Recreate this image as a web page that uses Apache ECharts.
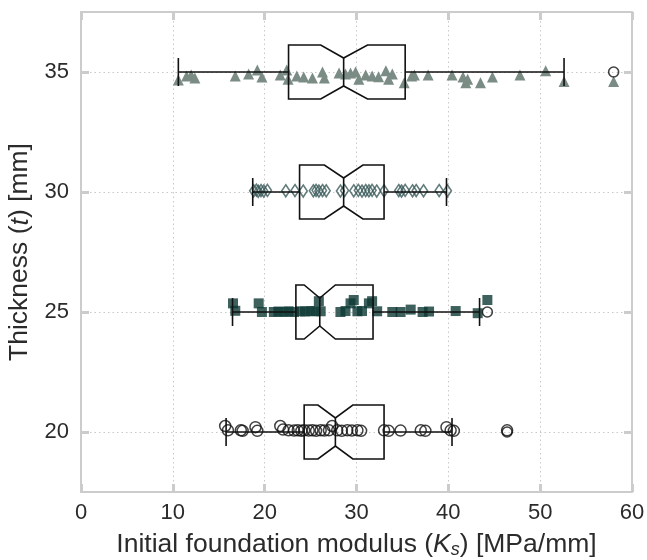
<!DOCTYPE html>
<html>
<head>
<meta charset="utf-8">
<script src="https://cdn.jsdelivr.net/npm/echarts@6/dist/echarts.min.js"></script>
<style>html,body{margin:0;padding:0;background:#fff}#c{width:647px;height:560px}</style>
</head>
<body>
<div id="c"></div>
<script>
// ---- data ----
const thickness = [20, 25, 30, 35];
const q1      = [24.3, 23.4, 23.8, 22.6];
const notchLo = [25.8, 24.3, 26.5, 26.1];
const median  = [27.7, 26.0, 28.6, 28.6];
const notchHi = [29.6, 27.7, 30.7, 31.2];
const q3      = [33.0, 31.8, 33.0, 35.3];
const whiskLo = [15.8, 16.5, 18.7, 10.6];
const whiskHi = [40.4, 43.4, 39.8, 52.6];
const outliers = [[46.4, 20], [44.25, 25], [58.0, 35]];

const xTicks = [0, 10, 20, 30, 40, 50, 60];
const yTicks = [20, 25, 30, 35];

const pts35 = [[10.6,34.67],[11.5,34.83],[12.0,34.87],[12.4,34.75],[16.8,34.83],[18.25,34.92],[19.2,35.08],[19.7,34.79],[21.7,34.87],[22.4,35.08],[22.55,34.7],[23.5,34.83],[24.25,34.79],[25.2,34.75],[26.3,35.0],[26.5,34.75],[28.1,34.96],[28.8,34.92],[29.35,34.96],[29.9,35.0],[30.25,34.7],[31.0,34.87],[31.7,34.83],[32.4,34.8],[33.2,35.05],[33.5,34.7],[33.9,34.92],[35.2,34.55],[36.0,34.83],[36.3,34.87],[37.8,34.87],[40.4,34.87],[41.6,34.79],[41.9,34.55],[42.1,34.7],[43.5,34.55],[44.8,34.79],[47.8,34.87],[50.6,35.05],[52.6,34.6],[58.0,34.6]];
const pts30 = [[18.8,30.05],[19.1,30.08],[19.3,30.03],[19.6,30.06],[19.9,30.04],[20.3,30.07],[22.3,30.05],[23.3,30.06],[24.2,30.04],[25.3,30.05],[25.6,30.07],[25.9,30.04],[26.3,30.06],[26.7,30.05],[28.25,30.04],[28.7,30.06],[29.7,30.05],[30.2,30.07],[30.6,30.04],[31.0,30.06],[31.35,30.05],[31.7,30.07],[32.2,30.04],[33.0,30.05],[34.6,30.06],[34.9,30.04],[35.3,30.07],[36.1,30.05],[36.5,30.06],[37.3,30.05],[39.0,30.06],[39.9,30.05]];
const pts25 = [[16.55,25.36],[16.8,25.05],[19.35,25.36],[19.7,25.0],[21.0,25.0],[21.5,25.02],[22.1,25.0],[22.6,25.03],[23.2,25.0],[23.9,25.03],[24.4,25.02],[25.0,25.04],[25.5,25.03],[25.9,25.45],[26.1,25.03],[28.25,25.0],[28.8,25.04],[29.35,25.36],[29.7,25.5],[30.1,25.03],[30.6,25.04],[31.35,25.36],[31.7,25.45],[32.25,25.03],[33.9,25.0],[34.8,25.0],[35.9,25.1],[37.2,25.0],[37.9,25.02],[40.8,25.04],[43.2,24.95],[44.25,25.5]];
const pts20 = [[15.7,20.25],[16.0,20.07],[17.4,20.07],[17.6,20.05],[19.0,20.2],[19.2,20.05],[21.7,20.25],[22.0,20.1],[22.6,20.07],[23.2,20.06],[23.6,20.07],[24.0,20.05],[24.3,20.07],[24.8,20.06],[25.2,20.07],[25.6,20.05],[26.1,20.07],[26.5,20.06],[27.0,20.07],[27.35,20.25],[27.9,20.07],[28.4,20.05],[29.0,20.07],[29.5,20.06],[30.1,20.07],[30.5,20.05],[33.0,20.07],[33.5,20.05],[34.8,20.06],[37.0,20.07],[37.5,20.05],[39.8,20.2],[40.25,20.07],[40.6,20.05],[46.4,20.07]];

const boxData = thickness.map((t, i) => [t, q1[i], notchLo[i], median[i], notchHi[i], q3[i], whiskLo[i], whiskHi[i]]);

const FONT = 'Liberation Sans';
const TXT = '#2b2b2b';
const frame = { show: true, onZero: false, lineStyle: { color: '#cccccc', width: 2 } };
const tick = { show: true, inside: true, length: 8, lineStyle: { color: '#cccccc', width: 3 } };

const chart = echarts.init(document.getElementById('c'), null, { renderer: 'canvas' });
chart.setOption({
  animation: false,
  backgroundColor: '#ffffff',
  grid: { left: 81, right: 15, top: 12, bottom: 68, containLabel: false, outerBoundsMode: 'none' },
  xAxis: [
    {
      type: 'value', position: 'bottom', min: 0, max: 60, interval: 10,
      axisLine: frame, axisTick: tick,
      axisLabel: { fontFamily: FONT, fontSize: 22, color: TXT, margin: 10 },
      splitLine: { show: true, lineStyle: { type: [1.5, 3], color: '#c8c8c8', width: 1 } },
      name: 'Initial foundation modulus ({i|K}{s|s}) [MPa/mm]',
      nameLocation: 'middle', nameGap: 38,
      nameTextStyle: { fontFamily: FONT, fontSize: 26.5, color: TXT,
        rich: { i: { fontFamily: FONT, fontSize: 26.5, fontStyle: 'italic', color: TXT },
                s: { fontFamily: FONT, fontSize: 18, fontStyle: 'italic', color: TXT, padding: [11, 0, 0, 0] } } }
    },
    {
      type: 'value', position: 'top', min: 0, max: 60, interval: 10,
      axisLine: frame, axisTick: tick, axisLabel: { show: false }, splitLine: { show: false }
    }
  ],
  yAxis: [
    {
      type: 'value', position: 'left', min: 17.5, max: 37.5,
      axisLine: frame,
      axisTick: Object.assign({ customValues: yTicks }, tick),
      axisLabel: { customValues: yTicks, fontFamily: FONT, fontSize: 22, color: TXT, margin: 12 },
      splitLine: { show: true, lineStyle: { type: [1.5, 3], color: '#c8c8c8', width: 1 } },
      name: 'Thickness ({i|t}) [mm]',
      nameLocation: 'middle', nameGap: 47,
      nameTextStyle: { fontFamily: FONT, fontSize: 26.5, color: TXT,
        rich: { i: { fontFamily: FONT, fontSize: 26.5, fontStyle: 'italic', color: TXT } } }
    },
    {
      type: 'value', position: 'right', min: 17.5, max: 37.5,
      axisLine: frame,
      axisTick: Object.assign({ customValues: yTicks }, tick),
      axisLabel: { show: false, customValues: yTicks }, splitLine: { show: false }
    }
  ],
  series: [
    { type: 'scatter', data: pts35, symbol: 'triangle', symbolSize: 11, z: 2,
      itemStyle: { color: '#7a8c84', opacity: 1 } },
    { type: 'scatter', data: pts30, symbol: 'diamond', symbolSize: [8, 12], z: 2,
      itemStyle: { color: 'rgba(0,0,0,0)', borderColor: '#3b5a5a', borderWidth: 1.6 } },
    { type: 'scatter', data: pts25, symbol: 'rect', symbolSize: 10, z: 2,
      itemStyle: { color: '#0e3a35' } },
    { type: 'scatter', data: pts20, symbol: 'circle', symbolSize: 11, z: 2,
      itemStyle: { color: 'rgba(0,0,0,0)', borderColor: '#111', borderWidth: 1.5 } },
    {
      type: 'custom', z: 4, data: boxData,
      renderItem: function (params, api) {
        const t = api.value(0);
        const v = [1,2,3,4,5,6,7].map(k => api.value(k));
        const [Q1, NL, MED, NH, Q3, WL, WH] = v;
        const c = api.coord([MED, t]);
        const yc = c[1];
        const hb = 27, hn = 14, hc = 14;
        const X = x => api.coord([x, t])[0];
        const st = { stroke: '#111', lineWidth: 1.6, fill: null };
        const pts = [
          [X(Q1), yc - hb], [X(NL), yc - hb], [X(MED), yc - hn], [X(NH), yc - hb], [X(Q3), yc - hb],
          [X(Q3), yc + hb], [X(NH), yc + hb], [X(MED), yc + hn], [X(NL), yc + hb], [X(Q1), yc + hb]
        ];
        return {
          type: 'group',
          children: [
            { type: 'polygon', shape: { points: pts }, style: st },
            { type: 'line', shape: { x1: X(MED), y1: yc - hn, x2: X(MED), y2: yc + hn }, style: st },
            { type: 'line', shape: { x1: X(WL), y1: yc, x2: X(Q1), y2: yc }, style: st },
            { type: 'line', shape: { x1: X(Q3), y1: yc, x2: X(WH), y2: yc }, style: st },
            { type: 'line', shape: { x1: X(WL), y1: yc - hc, x2: X(WL), y2: yc + hc }, style: st },
            { type: 'line', shape: { x1: X(WH), y1: yc - hc, x2: X(WH), y2: yc + hc }, style: st }
          ]
        };
      }
    },
    { type: 'scatter', data: outliers, symbol: 'circle', symbolSize: 10, z: 5,
      itemStyle: { color: 'rgba(0,0,0,0)', borderColor: '#111', borderWidth: 1.6 } }
  ]
});
</script>
</body>
</html>
